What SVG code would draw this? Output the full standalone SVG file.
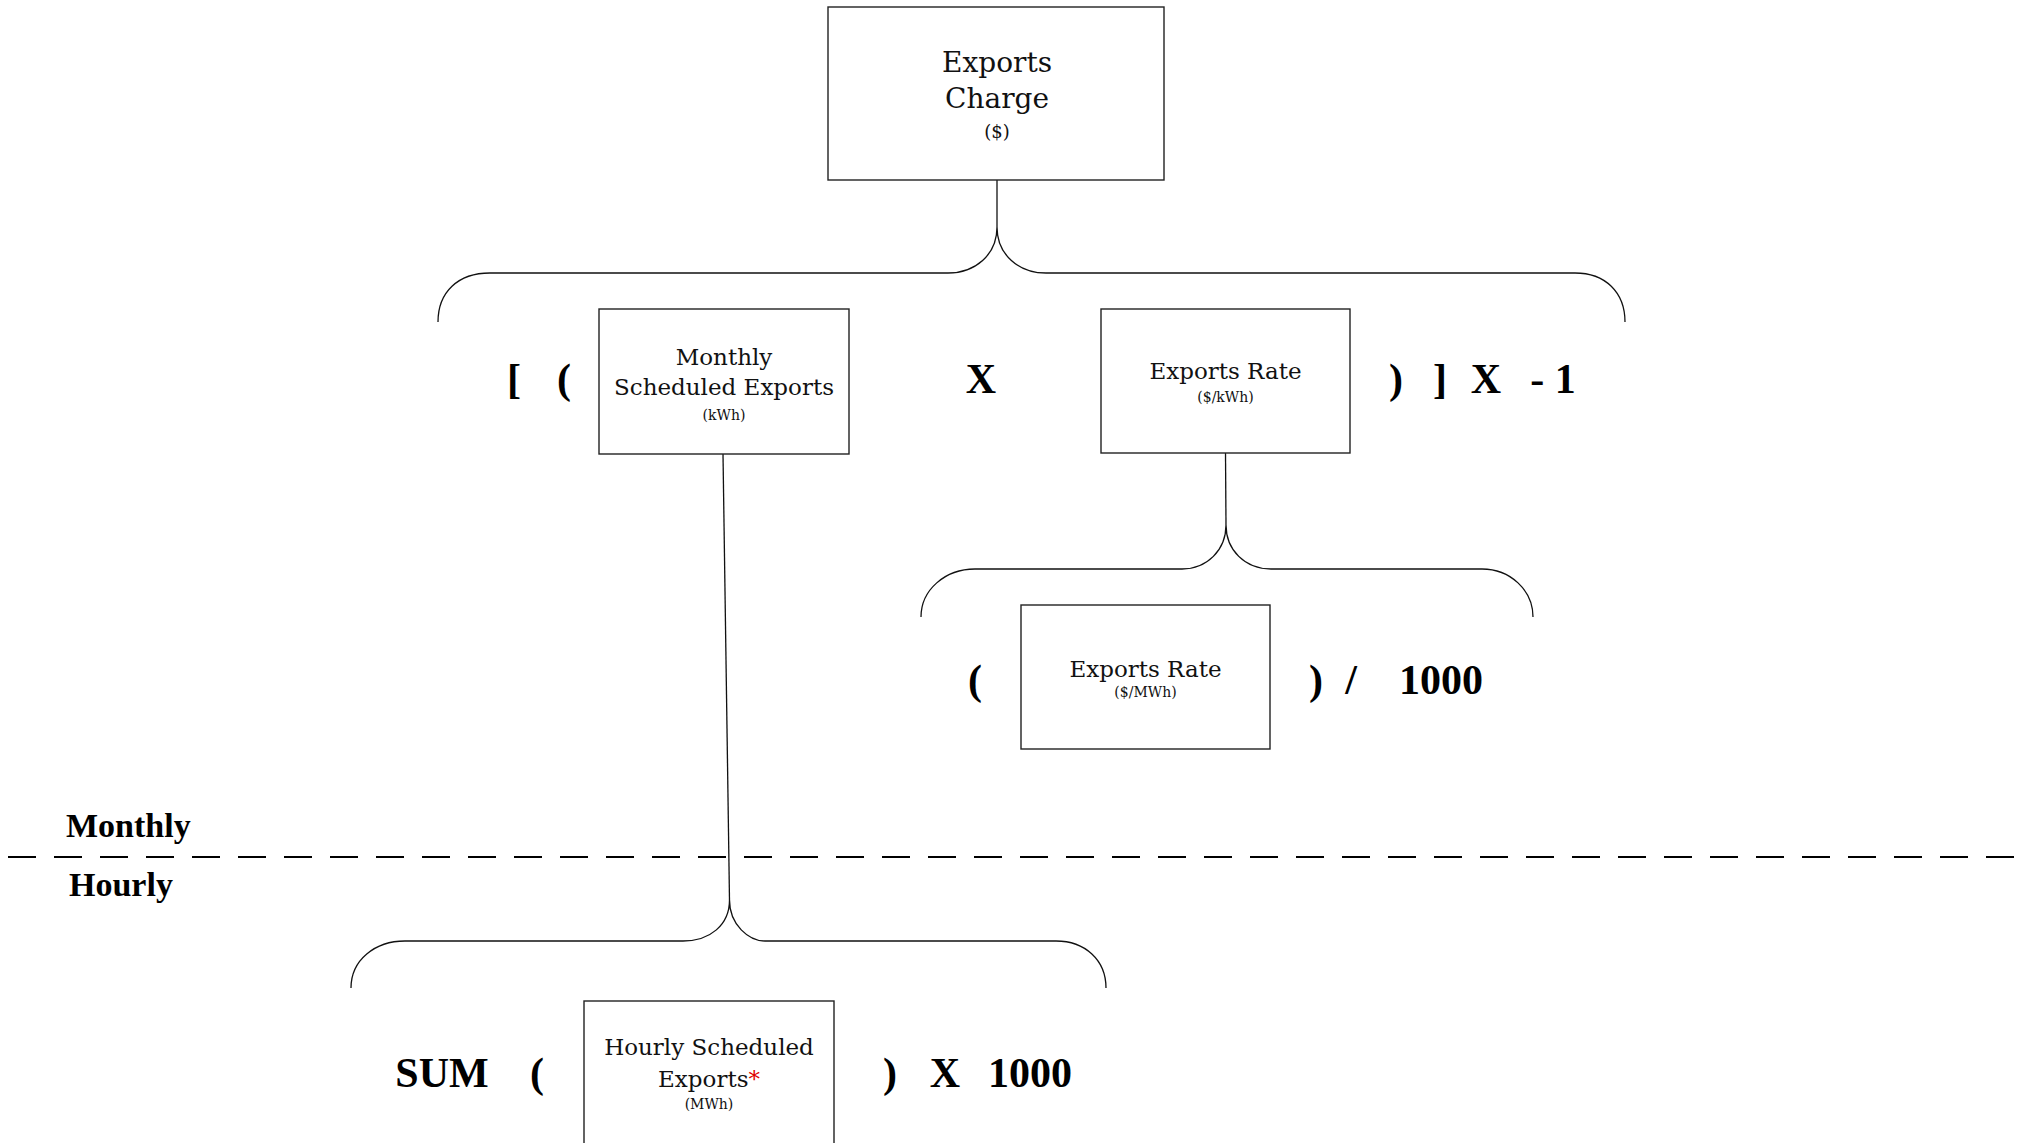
<svg xmlns="http://www.w3.org/2000/svg" width="2021" height="1143" viewBox="0 0 2021 1143">
<style>
.box{fill:#fff;stroke:#222;stroke-width:1.4}
.con{fill:none;stroke:#111;stroke-width:1.3}
.t{font-family:"DejaVu Serif","Liberation Serif",serif;fill:#111;text-anchor:middle}
.big{font-size:28px}
.mid{font-size:23px}
.sm{font-size:14px}
.op{font-family:"Liberation Serif",serif;font-weight:bold;font-size:42px;fill:#000;text-anchor:middle}
.lbl{font-family:"Liberation Serif",serif;font-weight:bold;font-size:34px;fill:#000}
</style>
<rect width="2021" height="1143" fill="#fff"/>
<g id="connectors">
<path class="con" d="M997,180 L997,227"/>
<path class="con" d="M438,322 C438,292 458,273 490,273 L948,273 C975,273 997,255 997,227 C997,255 1019,273 1046,273 L1575,273 C1605,273 1625,292 1625,322"/>
<path class="con" d="M1225.5,453 L1226,525"/>
<path class="con" d="M921,617 C921,590 945,569 975,569 L1182,569 C1207,569 1226,550 1226,525 C1226,550 1245,569 1271,569 L1482,569 C1510,569 1533,590 1533,617"/>
<path class="con" d="M723,454 L729.5,900"/>
<path class="con" d="M351,988 C351,960 375,941 405,941 L683,941 C710,941 729.5,925 729.5,900 C729.5,925 749,941 765,941 L1056,941 C1085,941 1106,960 1106,988"/>
</g>
<g id="divider">
<line x1="8" y1="857" x2="2021" y2="857" stroke="#000" stroke-width="2" stroke-dasharray="28,18"/>
<text class="lbl" x="66" y="837">Monthly</text>
<text class="lbl" x="69" y="896">Hourly</text>
</g>
<g id="node-exports-charge">
<rect class="box" x="828" y="7" width="336" height="173"/>
<text class="t big" x="997" y="72">Exports</text>
<text class="t big" x="997" y="108">Charge</text>
<text class="t" x="997" y="138" font-size="18">($)</text>
</g>
<g id="node-monthly-scheduled-exports">
<rect class="box" x="599" y="309" width="250" height="145"/>
<text class="t mid" x="724" y="365">Monthly</text>
<text class="t mid" x="724" y="395">Scheduled Exports</text>
<text class="t sm" x="724" y="420">(kWh)</text>
</g>
<g id="node-exports-rate-kwh">
<rect class="box" x="1101" y="309" width="249" height="144"/>
<text class="t mid" x="1225.5" y="379">Exports Rate</text>
<text class="t sm" x="1225.5" y="402">($/kWh)</text>
</g>
<g id="node-exports-rate-mwh">
<rect class="box" x="1021" y="605" width="249" height="144"/>
<text class="t mid" x="1145.5" y="677">Exports Rate</text>
<text class="t sm" x="1145.5" y="697">($/MWh)</text>
</g>
<g id="node-hourly-scheduled-exports">
<rect class="box" x="584" y="1001" width="250" height="160"/>
<text class="t mid" x="709" y="1055">Hourly Scheduled</text>
<text class="t mid" x="709" y="1087">Exports<tspan fill="#e00000">*</tspan></text>
<text class="t sm" x="709" y="1109">(MWh)</text>
</g>
<g id="operators">
<text class="op" x="514" y="393">[</text>
<text class="op" x="564" y="393">(</text>
<text class="op" x="981" y="393">X</text>
<text class="op" x="1396" y="393">)</text>
<text class="op" x="1440" y="393">]</text>
<text class="op" x="1486" y="393">X</text>
<text class="op" x="1553" y="393">- 1</text>
<text class="op" x="975" y="694">(</text>
<text class="op" x="1316" y="694">)</text>
<text class="op" x="1351" y="694">/</text>
<text class="op" x="1441" y="694">1000</text>
<text class="op" x="442" y="1087" font-size="45">SUM</text>
<text class="op" x="537" y="1087">(</text>
<text class="op" x="890" y="1087">)</text>
<text class="op" x="945" y="1087">X</text>
<text class="op" x="1030" y="1087">1000</text>
</g>
</svg>
